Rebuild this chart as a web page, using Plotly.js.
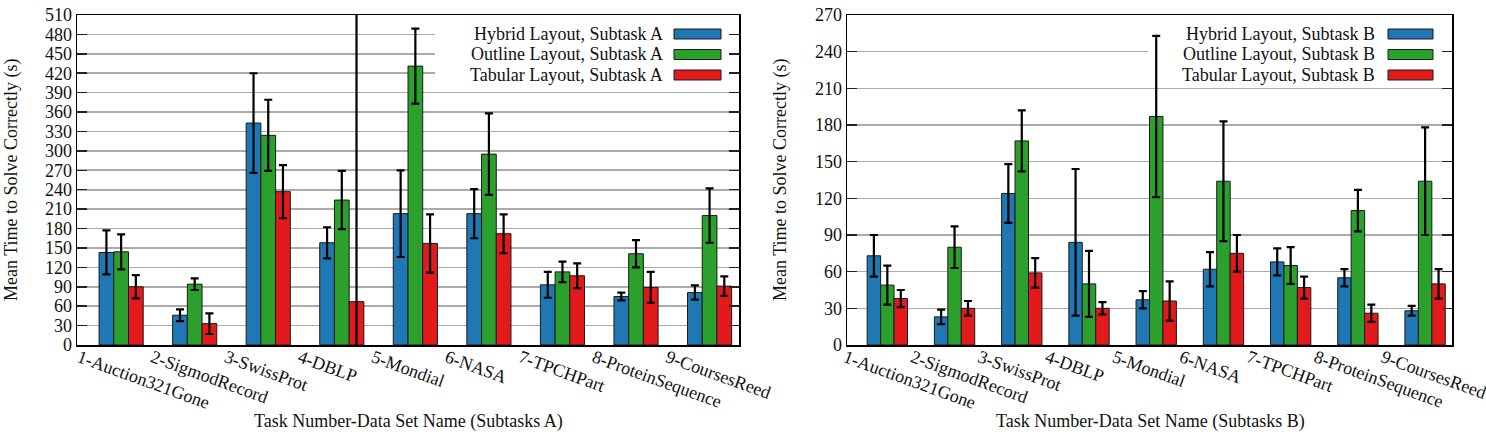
<!DOCTYPE html>
<html>
<head>
<meta charset="utf-8">
<script src="https://cdn.plot.ly/plotly-3.0.1.min.js"></script>
<style>
  html, body { margin: 0; padding: 0; background: #fff; }
  #chart { width: 1486px; height: 438px; }
</style>
</head>
<body>
<div id="chart"></div>
<script>
// Task / data set names shared by both panels
const categories = ['1-Auction321Gone', '2-SigmodRecord', '3-SwissProt', '4-DBLP', '5-Mondial',
                    '6-NASA', '7-TPCHPart', '8-ProteinSequence', '9-CoursesReed'];

// Subtask A: mean time (s) and error half-widths
const hybridA      = [143, 46, 343, 158, 203, 203, 93, 75, 81];
const hybridAErr   = [34, 9, 77, 24, 67, 38, 20, 6, 11];
const outlineA     = [144, 94, 324, 224, 431, 295, 113, 141, 200];
const outlineAErr  = [27, 9, 55, 45, 58, 63, 16, 21, 42];
const tabularA     = [90, 33, 237, 67, 157, 172, 107, 89, 91];
const tabularAErr  = [18, 16, 41, 470, 45, 30, 19, 24, 15];

// Subtask B: mean time (s) and error half-widths
const hybridB      = [73, 23, 124, 84, 37, 62, 68, 55, 28];
const hybridBErr   = [17, 6, 24, 60, 7, 14, 11, 7, 4];
const outlineB     = [49, 80, 167, 50, 187, 134, 65, 110, 134];
const outlineBErr  = [16, 17, 25, 27, 66, 49, 15, 17, 44];
const tabularB     = [38, 30, 59, 30, 36, 75, 47, 26, 50];
const tabularBErr  = [7, 6, 12, 5, 16, 15, 9, 7, 12];

const seriesNamesA = ['Hybrid Layout, Subtask A', 'Outline Layout, Subtask A', 'Tabular Layout, Subtask A'];
const seriesNamesB = ['Hybrid Layout, Subtask B', 'Outline Layout, Subtask B', 'Tabular Layout, Subtask B'];
const yTitle = 'Mean Time to Solve Correctly (s)';
const xTitleA = 'Task Number-Data Set Name (Subtasks A)';
const xTitleB = 'Task Number-Data Set Name (Subtasks B)';

const colors = ['#1f77b4', '#2ca02c', '#e31a1c'];
const FONT = 'Liberation Serif, Times New Roman, serif';
const FS = 18;
const W = 1486, H = 438;
const px = x => x / W;
const py = y => 1 - y / H;

function barTrace(name, vals, errs, color, xa, ya) {
  return {
    type: 'bar', name: name, x: categories, y: vals,
    xaxis: xa, yaxis: ya,
    marker: { color: color, line: { color: '#1a1a1a', width: 1 } },
    error_y: { type: 'data', array: errs, visible: true, color: '#000', thickness: 2.2, width: 4 },
    hoverinfo: 'x+y'
  };
}

const data = [
  barTrace(seriesNamesA[0], hybridA, hybridAErr, colors[0], 'x', 'y'),
  barTrace(seriesNamesA[1], outlineA, outlineAErr, colors[1], 'x', 'y'),
  barTrace(seriesNamesA[2], tabularA, tabularAErr, colors[2], 'x', 'y'),
  barTrace(seriesNamesB[0], hybridB, hybridBErr, colors[0], 'x2', 'y2'),
  barTrace(seriesNamesB[1], outlineB, outlineBErr, colors[1], 'x2', 'y2'),
  barTrace(seriesNamesB[2], tabularB, tabularBErr, colors[2], 'x2', 'y2')
];

const tickFont = { family: FONT, size: FS, color: '#111' };
const X_RANGE = [-0.6, 8.4];

function xAxis(domain, anchor) {
  return {
    domain: domain, type: 'category', range: X_RANGE, anchor: anchor,
    showgrid: false, zeroline: false, ticks: '',
    showline: true, mirror: true, linecolor: '#000', linewidth: 1.5,
    tickangle: 20, ticklabelshift: -42, ticklabelstandoff: -6,
    tickfont: tickFont, fixedrange: true
  };
}
function yAxis(domain, max, anchor) {
  return {
    domain: domain, range: [0, max], tick0: 0, dtick: 30, anchor: anchor,
    showgrid: true, gridcolor: '#ababab', gridwidth: 1.6, zeroline: false,
    ticks: 'inside', ticklen: 10, tickwidth: 1.5, tickcolor: '#222',
    showline: true, mirror: 'ticks', linecolor: '#000', linewidth: 1.5,
    tickfont: tickFont, fixedrange: true
  };
}

const yDom = [(H - 345) / H, (H - 15) / H];
const leftX = [77, 739], rightX = [847, 1452];

// Legend drawn as text + swatches, text to the left of each swatch
function legendItems(names, textRight, swLeft, swRight) {
  const rows = [34, 54.5, 75];
  const ann = [], shp = [];
  names.forEach((n, i) => {
    ann.push({ xref: 'paper', yref: 'paper', x: px(textRight), y: py(rows[i]),
      xanchor: 'right', yanchor: 'middle', text: n, showarrow: false,
      font: { family: FONT, size: FS, color: '#111' } });
    shp.push({ type: 'rect', xref: 'paper', yref: 'paper', layer: 'above',
      x0: px(swLeft), x1: px(swRight), y0: py(rows[i] + 5), y1: py(rows[i] - 5),
      fillcolor: colors[i], line: { color: '#1a1a1a', width: 1 } });
  });
  return { ann, shp };
}
const legA = legendItems(seriesNamesA, 665, 674, 721);
const legB = legendItems(seriesNamesB, 1377, 1388, 1433);

// White panels behind the legends (between grid and bars) hide the grid lines there
function toCat(pxX, ax) {
  return X_RANGE[0] + (pxX - ax[0]) / (ax[1] - ax[0]) * (X_RANGE[1] - X_RANGE[0]);
}
const legendBoxes = [
  { type: 'rect', xref: 'x', yref: 'y', layer: 'between',
    x0: toCat(435, leftX), x1: X_RANGE[1], y0: 510 * (345 - 86) / 330, y1: 510 * (345 - 20) / 330,
    fillcolor: '#fff', line: { width: 0 } },
  { type: 'rect', xref: 'x2', yref: 'y2', layer: 'between',
    x0: toCat(1148, rightX), x1: X_RANGE[1], y0: 270 * (345 - 84) / 330, y1: 270 * (345 - 20) / 330,
    fillcolor: '#fff', line: { width: 0 } }
];

const titleFont = { family: FONT, size: FS, color: '#111' };
const titles = [
  { xref: 'paper', yref: 'paper', x: px(11), y: py(180), textangle: -90, text: yTitle,
    showarrow: false, xanchor: 'center', yanchor: 'middle', font: titleFont },
  { xref: 'paper', yref: 'paper', x: px(780), y: py(180), textangle: -90, text: yTitle,
    showarrow: false, xanchor: 'center', yanchor: 'middle', font: titleFont },
  { xref: 'paper', yref: 'paper', x: px(408), y: py(421), text: xTitleA,
    showarrow: false, xanchor: 'center', yanchor: 'middle', font: titleFont },
  { xref: 'paper', yref: 'paper', x: px(1150), y: py(421), text: xTitleB,
    showarrow: false, xanchor: 'center', yanchor: 'middle', font: titleFont }
];

const layout = {
  width: W, height: H,
  margin: { l: 0, r: 0, t: 0, b: 0, pad: 0 },
  paper_bgcolor: '#fff', plot_bgcolor: '#fff',
  showlegend: false,
  barmode: 'group', bargap: 0.4, bargroupgap: 0,
  font: { family: FONT, size: FS, color: '#111' },
  xaxis: xAxis([leftX[0] / W, leftX[1] / W], 'y'),
  yaxis: yAxis(yDom, 510, 'x'),
  xaxis2: xAxis([rightX[0] / W, rightX[1] / W], 'y2'),
  yaxis2: yAxis(yDom, 270, 'x2'),
  shapes: legendBoxes.concat(legA.shp, legB.shp),
  annotations: titles.concat(legA.ann, legB.ann)
};

Plotly.newPlot('chart', data, layout, { staticPlot: true, displayModeBar: false });
</script>
</body>
</html>
